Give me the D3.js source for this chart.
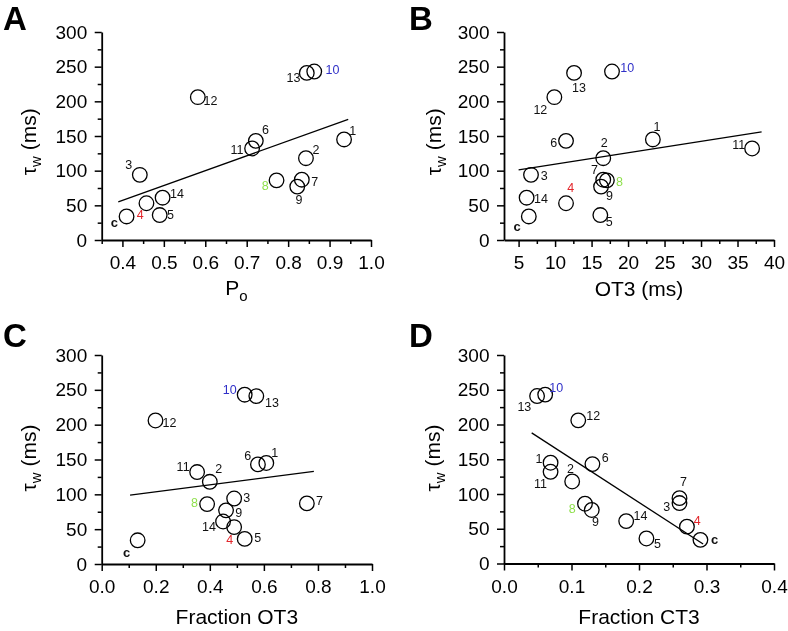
<!DOCTYPE html>
<html><head><meta charset="utf-8">
<script src="https://cdn.jsdelivr.net/npm/d3@7"></script>
<style>
body{margin:0;background:#fff;}
svg{display:block;font-family:Arial,"Liberation Sans",sans-serif;will-change:transform;}
</style></head>
<body>
<svg id="chart" width="788" height="631"></svg>
<script>
// ---------------- data ----------------
const cells   = ["c","1","2","3","4","5","6","7","8","9","10","11","12","13","14"];
const tauW    = [34,145,118,94,53,36,143,87,86,77,243,132,206,241,61];
const po      = [0.41,0.935,0.843,0.442,0.458,0.49,0.722,0.833,0.772,0.822,0.863,0.713,0.582,0.845,0.497];
const ot3     = [6.4,23.4,16.6,6.7,11.5,16.2,11.5,16.6,17.1,16.3,17.8,37.0,9.9,12.6,6.1];
const fracOT3 = [0.133,0.609,0.40,0.49,0.49,0.529,0.578,0.759,0.39,0.46,0.529,0.353,0.199,0.572,0.449];
const fracCT3 = [0.291,0.069,0.101,0.26,0.271,0.211,0.131,0.26,0.12,0.13,0.061,0.069,0.11,0.049,0.181];

// regression line end points (x pair, y pair)
const fitAx = [0.39,0.945],  fitAy = [55,174];
const fitBx = [5.0,38.3],    fitBy = [101,156];
const fitCx = [0.105,0.785], fitCy = [99,133];
const fitDx = [0.041,0.295], fitDy = [188,28];

// tick labels
const yTicks  = [0,50,100,150,200,250,300];
const yMinor  = [25,75,125,175,225,275];
const xTicksA = [0.4,0.5,0.6,0.7,0.8,0.9,1.0];
const xMinorA = [0.35,0.45,0.55,0.65,0.75,0.85,0.95];
const xTicksB = [5,10,15,20,25,30,35,40];
const xMinorB = [7.5,12.5,17.5,22.5,27.5,32.5,37.5];
const xTicksC = [0.0,0.2,0.4,0.6,0.8,1.0];
const xMinorC = [0.1,0.3,0.5,0.7,0.9];
const xTicksD = [0.0,0.1,0.2,0.3,0.4];
const xMinorD = [0.05,0.15,0.25,0.35];

// ---------------- layout ----------------
const labelOffsets = {
  A:{c:[-12.3,5.7],"4":[-6.3,11.7],"5":[10.7,0],"14":[14.3,-4],"3":[-11,-10.3],"12":[12.7,4.3],"11":[-15,1.3],"6":[9.7,-11],"8":[-11.3,6],"7":[13,2.3],"9":[1.7,13.3],"2":[10,-8.3],"1":[8.7,-8],"13":[-13.3,5.3],"10":[18.3,-1.7]},
  B:{c:[-11.7,10],"14":[14.3,1],"3":[13.3,0.7],"4":[4.7,-15.7],"6":[-12.3,1.7],"12":[-14,12.7],"13":[5,14.7],"10":[15.3,-3.7],"2":[1,-14.7],"1":[4,-12.3],"11":[-13.3,-3.7],"7":[-8.8,-10],"8":[12.5,2],"9":[8.4,9.7],"5":[9,6.7]},
  C:{c:[-11,12],"12":[14,3],"10":[-15,-5],"13":[15.7,6.7],"11":[-14,-5.3],"2":[9,-12.7],"6":[-10.3,-8],"1":[8.3,-10],"8":[-12.7,-0.7],"9":[12.7,2.3],"14":[-14,5],"4":[-4.3,12.7],"5":[13,-1],"7":[12.7,-2.7],"3":[12.7,-1]},
  D:{"13":[-12.7,11.3],"10":[11,-6.7],"12":[15,-4.3],"1":[-11.7,-3.3],"11":[-10,12.3],"2":[-1.7,-12.7],"6":[12.7,-5.7],"8":[-12.7,5],"9":[3.7,12.3],"14":[14.3,-4.7],"5":[11,5.7],"7":[4,-21],"3":[-12.7,9.3],"4":[10.3,-6],c:[14.3,0]}
};
const labelColor = {"4":"#e3262b","8":"#8fe04c","10":"#3030c8"};

const panels = [
  {id:"A", xv:po,      fx:fitAx, fy:fitAy, dom:[0.35,1.0], xr:[101.7,371], yr:[240,32],  xt:xTicksA, xm:xMinorA, fmt:d3.format(".1f"),
   letter:[3,30], xTitle:"Po", xTitleY:295, yTitleX:36, yTitleY:141.7},
  {id:"B", xv:ot3,     fx:fitBx, fy:fitBy, dom:[3,40],     xr:[504,774],   yr:[240,32],  xt:xTicksB, xm:xMinorB, fmt:d3.format("d"),
   letter:[409,30], xTitle:"OT3 (ms)", xTitleY:296, yTitleX:441.3, yTitleY:141.7},
  {id:"C", xv:fracOT3, fx:fitCx, fy:fitCy, dom:[0,1],      xr:[101.7,372], yr:[564,355], xt:xTicksC, xm:xMinorC, fmt:d3.format(".1f"),
   letter:[3,347], xTitle:"Fraction OT3", xTitleY:624, yTitleX:36, yTitleY:458},
  {id:"D", xv:fracCT3, fx:fitDx, fy:fitDy, dom:[0,0.4],    xr:[504,774],   yr:[563.5,355], xt:xTicksD, xm:xMinorD, fmt:d3.format(".1f"),
   letter:[409,347], xTitle:"Fraction CT3", xTitleY:624, yTitleX:439.7, yTitleY:458}
];

const svg = d3.select("#chart");

panels.forEach(p => {
  const x = d3.scaleLinear().domain(p.dom).range(p.xr);
  const y = d3.scaleLinear().domain([0,300]).range(p.yr);
  const g = svg.append("g");

  // axes
  const yAxis = d3.axisLeft(y).tickValues(yTicks).tickSize(7).tickSizeOuter(0).tickPadding(7.5).tickFormat(d3.format("d"));
  const yAx = g.append("g").attr("transform",`translate(${p.xr[0]},0)`).call(yAxis);
  const yMin = g.append("g").attr("transform",`translate(${p.xr[0]},0)`).call(d3.axisLeft(y).tickValues(yMinor).tickSize(4).tickFormat(""));
  yMin.select(".domain").remove();

  const xAxis = d3.axisBottom(x).tickValues(p.xt).tickSize(7).tickSizeOuter(0).tickPadding(9).tickFormat(p.fmt);
  const xAx = g.append("g").attr("transform",`translate(0,${p.yr[0]})`).call(xAxis);
  const xMin = g.append("g").attr("transform",`translate(0,${p.yr[0]})`).call(d3.axisBottom(x).tickValues(p.xm).tickSize(4).tickFormat(""));
  xMin.select(".domain").remove();

  [yAx,xAx].forEach(a=>{
    a.select(".domain").attr("stroke","#000").attr("stroke-width",1.8);
    a.selectAll("text").attr("font-size",19).attr("fill","#000").attr("font-family",'Arial,"Liberation Sans",sans-serif');
  });
  g.selectAll(".tick line").attr("stroke","#000").attr("stroke-width",1.5);

  // regression line
  g.append("line")
    .attr("x1",x(p.fx[0])).attr("y1",y(p.fy[0]))
    .attr("x2",x(p.fx[1])).attr("y2",y(p.fy[1]))
    .attr("stroke","#000").attr("stroke-width",1.3);

  // points
  const pts = cells.map((c,i)=>({c, xv:p.xv[i], t:tauW[i]}));
  g.selectAll("circle.pt").data(pts).enter().append("circle")
    .attr("class","pt")
    .attr("cx",d=>x(d.xv)).attr("cy",d=>y(d.t)).attr("r",7.3)
    .attr("fill","none").attr("stroke","#000").attr("stroke-width",1.3);

  // point labels
  g.selectAll("text.lab").data(pts).enter().append("text")
    .attr("class","lab")
    .attr("x",d=>x(d.xv)+labelOffsets[p.id][d.c][0])
    .attr("y",d=>y(d.t)+labelOffsets[p.id][d.c][1])
    .attr("text-anchor","middle").attr("dominant-baseline","central")
    .attr("font-size",d=>d.c==="c"?13:12.5)
    .attr("font-weight",d=>d.c==="c"?"bold":"normal")
    .attr("fill",d=>labelColor[d.c]||"#111")
    .text(d=>d.c);

  // panel letter
  svg.append("text").attr("x",p.letter[0]).attr("y",p.letter[1])
    .attr("font-size",33).attr("font-weight","bold").text(p.id);

  // x title
  const xc = (p.xr[0]+p.xr[1])/2;
  const xt = svg.append("text").attr("x",xc).attr("y",p.xTitleY)
    .attr("text-anchor","middle").attr("font-size",21);
  if (p.xTitle==="Po") {
    xt.append("tspan").text("P");
    xt.append("tspan").attr("dy",6).attr("font-size",15).text("o");
  } else {
    xt.text(p.xTitle);
  }

  // y title
  const yt = svg.append("text")
    .attr("transform",`translate(${p.yTitleX},${p.yTitleY}) rotate(-90)`)
    .attr("text-anchor","middle").attr("font-size",21);
  yt.append("tspan").text("τ");
  yt.append("tspan").attr("dy",5).attr("font-size",15).text("w");
  yt.append("tspan").attr("dy",-5).text(" (ms)");
});
</script>
</body></html>
